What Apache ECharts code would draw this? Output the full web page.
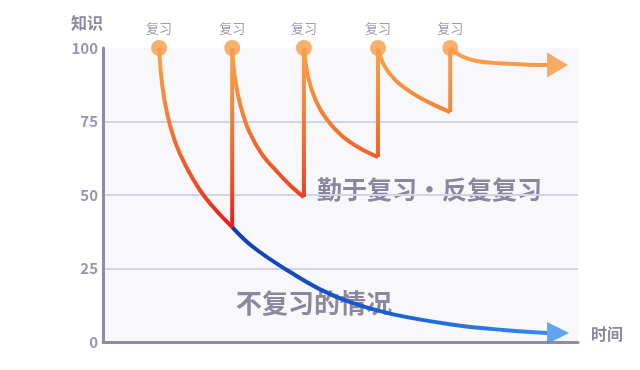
<!DOCTYPE html>
<html>
<head>
<meta charset="utf-8">
<script src="https://cdn.jsdelivr.net/npm/echarts@6/dist/echarts.min.js"></script>
<style>
html,body{margin:0;padding:0;background:#ffffff;}
#chart{width:640px;height:370px;}
</style>
</head>
<body>
<div id="chart"></div>
<script>
// ---- data (x: time 0-100, y: knowledge 0-100) ----
const yTicks = [0, 25, 50, 75, 100];
const yAxisName = '知识';
const xAxisName = '时间';
const reviewLabel = '复习';
const reviewX = [11.8, 27.2, 42.3, 57.9, 73.1];
const reviewY = [100, 100, 100, 100, 100];

const curve1 = [[11.8,100],[12.5,87],[13.6,77],[15.2,68],[17.4,60],[20.4,51.7],[23.8,44.8],[27.2,39.1]];
const curve2 = [[27.2,100],[27.8,89.5],[29.0,80],[30.8,71.5],[33.4,64],[36.6,58],[39.6,53],[42.3,49.3]];
const curve3 = [[42.3,100],[43.2,90],[44.8,82],[47.2,75.5],[50.4,70],[54.0,66],[57.9,62.9]];
const curve4 = [[57.9,100],[59.2,94],[61.6,89],[64.8,85],[68.6,81.5],[73.1,78.2]];
const curve5 = [[73.1,100],[75.4,97.3],[78.6,95.6],[83.5,94.8],[88.5,94.4],[93.5,94.2]];
const reviewArrow = [[95.7,94.2]];

const noReview = [[27.2,39.1],[31.6,32.3],[38.7,24.5],[45.7,17.9],[52.6,13.2],[61.1,9.4],[73.7,5.9],[84.2,4.1],[93.5,3.1]];
const noReviewArrow = [[95.8,3.1]];

const textReview = '勤于复习·反复复习';
const textNoReview = '不复习的情况';

// ---- build ----
const curves = [curve1, curve2, curve3, curve4, curve5];
const jumpData = [];
for (let i = 0; i < 4; i++) {
  const end = curves[i][curves[i].length - 1];
  if (i) jumpData.push('-');
  jumpData.push([end[0], end[1]]);
  jumpData.push([reviewX[i + 1], reviewY[i + 1]]);
}
const dots = reviewX.map((x, i) => [x, reviewY[i]]);

const chart = echarts.init(document.getElementById('chart'));
const orangeGrad = new echarts.graphic.LinearGradient(0, 48, 0, 232, [
  {offset: 0, color: '#f9a34c'},
  {offset: 0.35, color: '#f58236'},
  {offset: 0.75, color: '#ee4a22'},
  {offset: 1, color: '#e8141c'}
], true);
const blueGrad = new echarts.graphic.LinearGradient(232, 0, 568, 0, [
  {offset: 0, color: '#0b3fb4'},
  {offset: 0.5, color: '#1c63d6'},
  {offset: 1, color: '#3d8ff0'}
], true);
const txtColor = '#8c879e';
const font = '"Noto Sans CJK SC", "Noto Sans", sans-serif';

const curveSeries = curves.map(c => ({
  type: 'line', data: c, smooth: 0.4, symbol: 'none', z: 4,
  lineStyle: {color: orangeGrad, width: 4}
}));

chart.setOption({
  animation: false,
  backgroundColor: '#ffffff',
  grid: {left: 103, right: 62, top: 48, bottom: 28, show: true, backgroundColor: '#f8f8fb', borderWidth: 0},
  xAxis: {
    type: 'value', min: 0, max: 100,
    axisLine: {show: true, lineStyle: {color: '#8f8cab', width: 3}},
    axisTick: {show: false}, axisLabel: {show: false}, splitLine: {show: false}
  },
  yAxis: {
    type: 'value', min: yTicks[0], max: yTicks[yTicks.length - 1], interval: 25,
    axisLine: {show: true, lineStyle: {color: '#8f8cab', width: 3}},
    axisTick: {show: false},
    axisLabel: {color: '#9995ae', fontSize: 15, fontWeight: 'bold', fontFamily: font, margin: 5},
    splitLine: {show: true, lineStyle: {color: ['rgba(0,0,0,0)', '#d3d3e6', '#d3d3e6', '#d3d3e6', 'rgba(0,0,0,0)'], width: 2}}
  },
  graphic: [
    {type: 'text', left: 71, top: 15, style: {text: yAxisName, fill: txtColor, font: 'bold 16px ' + font}},
    {type: 'text', left: 591, top: 326, style: {text: xAxisName, fill: txtColor, font: 'bold 16px ' + font}},
    {type: 'text', left: 317, top: 177, style: {text: textReview, fill: txtColor, font: 'bold 25px ' + font}},
    {type: 'text', left: 236, top: 290, style: {text: textNoReview, fill: txtColor, font: 'bold 26px ' + font}}
  ],
  series: [
    {
      type: 'line', data: noReview, smooth: 0.4, symbol: 'none', z: 3,
      lineStyle: {color: blueGrad, width: 4}
    },
    {
      type: 'scatter', data: noReviewArrow, symbol: 'triangle', symbolRotate: -90, symbolSize: [22, 22], z: 3,
      itemStyle: {color: '#3d8ff0'}
    },
    {
      type: 'line', data: jumpData, smooth: false, symbol: 'none', z: 4,
      lineStyle: {color: orangeGrad, width: 4}
    }
  ].concat(curveSeries).concat([
    {
      type: 'scatter', data: reviewArrow, symbol: 'triangle', symbolRotate: -90, symbolSize: [25, 21], z: 4,
      itemStyle: {color: '#f8953f'}
    },
    {
      type: 'scatter', data: dots, symbolSize: 16, z: 5,
      itemStyle: {color: '#f69c48'},
      label: {show: true, position: 'top', distance: 5, formatter: reviewLabel, color: '#878299', fontSize: 13, fontFamily: font}
    }
  ])
});
</script>
</body>
</html>
